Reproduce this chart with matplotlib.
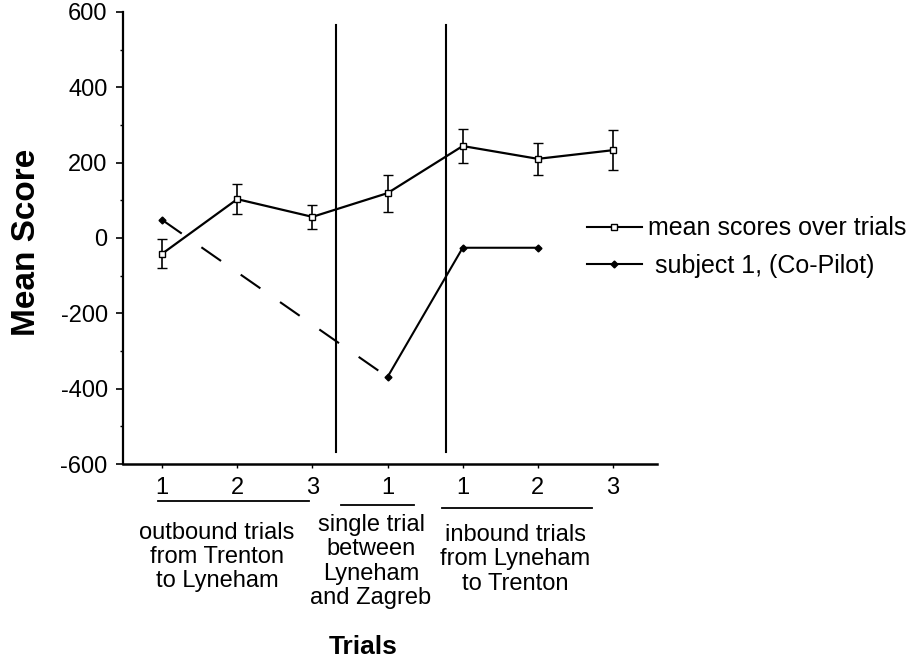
import numpy as np
import matplotlib
matplotlib.use("Agg")
import matplotlib.pyplot as plt
from matplotlib.ticker import MultipleLocator
from matplotlib.lines import Line2D
import matplotlib.transforms as mtransforms

plt.rcParams['font.family'] = ['Liberation Sans', 'DejaVu Sans']
plt.rcParams['axes.unicode_minus'] = False

# data
positions = [1, 2, 3, 4, 5, 6, 7]
tick_labels = ['1', '2', '3', '1', '1', '2', '3']
mean_scores = [-42, 103, 56, 119, 244, 210, 233]
mean_err = [38, 40, 32, 49, 45, 42, 53]
subj_x = [1, 4, 5, 6]
subj_scores = [48, -369, -26, -26]
dividers = [3.32, 4.78]
# (text, underline start, underline end, text centre)
groups = [
    ("outbound trials\nfrom Trenton\nto Lyneham", 0.95, 2.95, 1.73),
    ("single trial\nbetween\nLyneham\nand Zagreb", 3.38, 4.35, 3.78),
    ("inbound trials\nfrom Lyneham\nto Trenton", 4.73, 6.72, 5.70),
]

fig = plt.figure(figsize=(9.2, 6.61), dpi=100)
ax = fig.add_axes([0.1337, 0.298, 0.580, 0.684])

# mean scores with error bars
ax.errorbar(positions, mean_scores, yerr=mean_err, color='black', lw=1.6,
            marker='s', markersize=5, markerfacecolor='white', markeredgewidth=1.0,
            ecolor='black', elinewidth=1.2, capsize=3.5, capthick=1.2, zorder=3)

# subject 1: dashed bridge over missing trials, then solid
ax.plot(subj_x[:2], subj_scores[:2], color='black', lw=1.5,
        linestyle=(0, (11.5, 11.5)), zorder=2)
ax.plot(subj_x[1:], subj_scores[1:], color='black', lw=1.5, zorder=2)
ax.plot(subj_x, subj_scores, linestyle='none', marker='D', markersize=3.5,
        color='black', zorder=4)

# section dividers
for d in dividers:
    ax.plot([d, d], [-568, 565], color='black', lw=1.5, zorder=1)

ax.set_xlim(0.48, 7.58)
ax.set_ylim(-600, 600)
ax.yaxis.set_major_locator(MultipleLocator(200))
ax.yaxis.set_minor_locator(MultipleLocator(100))
ax.tick_params(axis='y', which='major', length=5, width=1.2, labelsize=17, pad=6)
ax.tick_params(axis='y', which='minor', length=2.5, width=1.0)
ax.set_xticks(positions)
ax.set_xticklabels(tick_labels)
ax.tick_params(axis='x', length=3, width=1.0, labelsize=17, pad=6)

for side in ['top', 'right']:
    ax.spines[side].set_visible(False)
ax.spines['left'].set_linewidth(1.6)
ax.spines['bottom'].set_linewidth(1.8)

fig.text(0.029, 0.634, 'Mean Score', fontsize=24, fontweight='bold',
         rotation=90, ha='center', va='center')
fig.text(0.395, 0.021, 'Trials', fontsize=19, fontweight='bold',
         ha='center', va='center')

# group underlines and descriptions below the axis
trans = mtransforms.blended_transform_factory(ax.transData, ax.transAxes)
line_y = [-0.082, -0.091, -0.097]
text_y = [-0.128, -0.111, -0.133]
for (txt, x0, x1, xc), ly, ty in zip(groups, line_y, text_y):
    ax.plot([x0, x1], [ly, ly], color='black', lw=1.3, transform=trans, clip_on=False)
    ax.text(xc, ty, txt, transform=trans, ha='center', va='top',
            fontsize=17, linespacing=1.13)

handles = [
    Line2D([], [], color='black', lw=1.5, marker='s', markersize=5,
           markerfacecolor='white', markeredgewidth=1.0),
    Line2D([], [], color='black', lw=1.5, marker='D', markersize=3.5),
]
ax.legend(handles, ['mean scores over trials', ' subject 1, (Co-Pilot)'],
          loc='center left', bbox_to_anchor=(0.638, 0.626), bbox_transform=fig.transFigure,
          frameon=False, fontsize=18, handlelength=2.2, handletextpad=0.25,
          labelspacing=0.55, borderpad=0, borderaxespad=0)

fig.savefig('out.png', dpi=100)
